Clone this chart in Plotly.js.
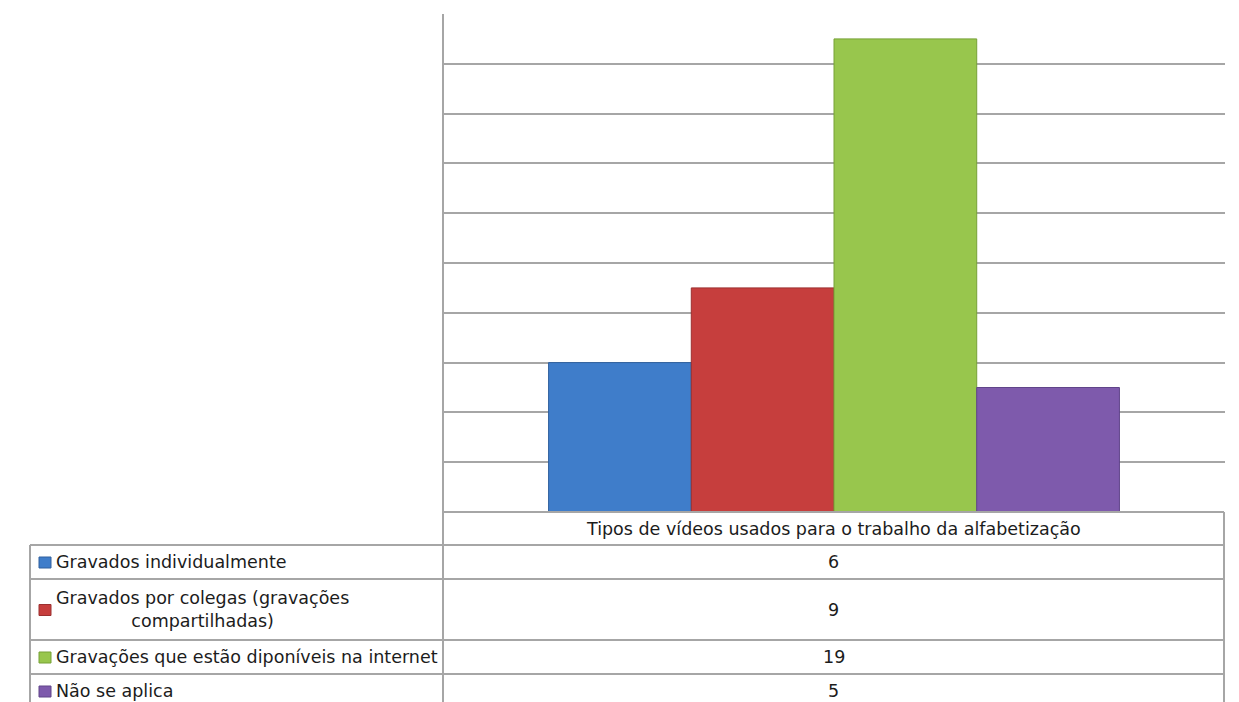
<!DOCTYPE html>
<html>
<head>
<meta charset="utf-8">
<script src="https://cdn.plot.ly/plotly-3.0.1.min.js"></script>
<style>
html,body{margin:0;padding:0;background:#fff;}
#chart{width:1239px;height:702px;}
</style>
</head>
<body>
<div id="chart"></div>
<script>
// ---- data ----
const categories = ['Tipos de vídeos usados para o trabalho da alfabetização'];
const seriesNames = [
  'Gravados individualmente',
  'Gravados por colegas (gravações<br>compartilhadas)',
  'Gravações que estão diponíveis na internet',
  'Não se aplica'
];
const seriesValues = [6, 9, 19, 5];
const seriesColors = ['#3f7dca', '#c63e3d', '#98c64d', '#7e5aac'];
const seriesEdge = ['#30609e', '#9c3030', '#77a137', '#604489'];

// ---- layout geometry (pixels) ----
const W = 1239, H = 702;
const plotL = 443, plotR = 1225, plotT = 14, plotB = 512;
const tableL = 30, tableR = 1224;
const headerTop = 512, headerBot = 545;
const rowEdges = [545, 579, 640, 674, 708];
const lineColor = '#a6a6a6';
const textColor = '#1c1c1c';
const fontFam = 'DejaVu Sans, Verdana, sans-serif';
const fontSize = 17.5;

const px = x => (x - plotL) / (plotR - plotL);
const py = y => (plotB - y) / (plotB - plotT);

const traces = seriesNames.map((name, i) => ({
  type: 'bar',
  name: name,
  x: categories,
  y: [seriesValues[i]],
  marker: { color: seriesColors[i], line: { color: seriesEdge[i], width: 1 } },
  hoverinfo: 'skip'
}));

const shapes = [];
const annotations = [];
function hline(x0, x1, y) {
  shapes.push({ type: 'line', xref: 'paper', yref: 'paper', x0: px(x0), x1: px(x1), y0: py(y), y1: py(y), line: { color: lineColor, width: 2 } });
}
function vline(x, y0, y1) {
  shapes.push({ type: 'line', xref: 'paper', yref: 'paper', x0: px(x), x1: px(x), y0: py(y0), y1: py(y1), line: { color: lineColor, width: 2 } });
}
hline(plotL, tableR, headerTop);
vline(tableR, headerTop, H + 10);
vline(plotL, plotT, H + 10);
vline(tableL, headerBot, H + 10);
for (let i = 0; i < rowEdges.length - 1; i++) hline(tableL, tableR, rowEdges[i]);

annotations.push({
  xref: 'paper', yref: 'paper', x: px((plotL + tableR) / 2), y: py((headerTop + headerBot) / 2),
  text: categories[0], showarrow: false, xanchor: 'center', yanchor: 'middle',
  font: { family: fontFam, size: fontSize, color: textColor }
});

seriesNames.forEach((name, i) => {
  const top = rowEdges[i], bot = rowEdges[i + 1];
  const cy = (top + bot) / 2;
  shapes.push({ type: 'rect', xref: 'paper', yref: 'paper', x0: px(39), x1: px(51), y0: py(cy - 5), y1: py(cy + 6),
    fillcolor: seriesColors[i], line: { color: seriesEdge[i], width: 1 } });
  annotations.push({
    xref: 'paper', yref: 'paper', x: px(54), y: py(cy), text: name, showarrow: false,
    xanchor: 'left', yanchor: 'middle', align: 'center',
    font: { family: fontFam, size: fontSize, color: textColor }
  });
  annotations.push({
    xref: 'paper', yref: 'paper', x: px((plotL + tableR) / 2), y: py(cy), text: String(seriesValues[i]), showarrow: false,
    xanchor: 'center', yanchor: 'middle',
    font: { family: fontFam, size: fontSize, color: textColor }
  });
});

const layout = {
  width: W, height: H,
  margin: { l: plotL, r: W - plotR, t: plotT, b: H - plotB, pad: 0 },
  paper_bgcolor: '#ffffff', plot_bgcolor: '#ffffff',
  showlegend: false,
  barmode: 'group', bargap: 0.27, bargroupgap: 0,
  xaxis: { showticklabels: false, ticks: '', showgrid: false, showline: false, zeroline: false, fixedrange: true },
  yaxis: { range: [0, 20], dtick: 2, showticklabels: false, ticks: '', showgrid: true, gridcolor: lineColor, gridwidth: 2,
           showline: false, zeroline: false, fixedrange: true },
  shapes: shapes,
  annotations: annotations
};

Plotly.newPlot('chart', traces, layout, { displayModeBar: false, staticPlot: true });
</script>
</body>
</html>
